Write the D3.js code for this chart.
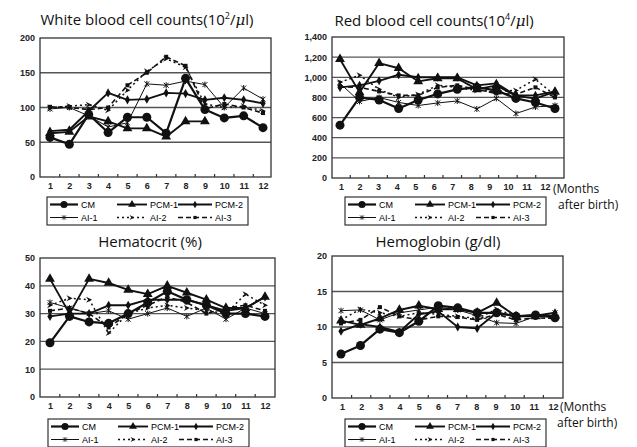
<!DOCTYPE html>
<html><head><meta charset="utf-8">
<script src="https://cdn.jsdelivr.net/npm/d3@7"></script>
<style>body{margin:0;background:#fff}svg{display:block}</style>
</head><body><svg id="c" width="637" height="447"></svg>
<script>
const months = [1,2,3,4,5,6,7,8,9,10,11,12];
const seriesNames = ["CM","PCM-1","PCM-2","AI-1","AI-2","AI-3"];

// White blood cell counts (10^2/ul)
const wbcTicks = [0,50,100,150,200];
const wbcCM   = [57,47,90,64,86,86,63,142,97,85,88,71];
const wbcPCM1 = [63,65,87,80,70,70,58,80,80,null,null,null];
const wbcPCM2 = [66,68,95,121,111,112,121,120,111,114,111,106];
const wbcAI1  = [98,100,88,72,78,134,132,138,133,100,128,112];
const wbcAI2  = [100,102,104,96,125,152,170,158,105,100,102,95];
const wbcAI3  = [101,100,97,100,132,150,173,160,98,105,100,92];

// Red blood cell counts (10^4/ul)
const rbcTicks = [0,200,400,600,800,1000,1200,1400];
const rbcCM   = [525,800,775,690,775,835,880,900,870,790,750,690];
const rbcPCM1 = [1180,850,1140,1090,960,990,990,880,920,815,790,855];
const rbcPCM2 = [900,920,965,1025,1000,1000,1000,920,940,820,820,860];
const rbcAI1  = [940,760,800,750,720,745,765,685,790,640,705,720];
const rbcAI2  = [950,1020,880,800,830,920,900,870,860,870,980,820];
const rbcAI3  = [905,900,860,820,820,900,920,880,840,830,900,800];

// Hematocrit (%)
const hctTicks = [0,10,20,30,40,50];
const hctCM   = [19.5,29,27,26.5,30,34,38,35,33,30,30,29];
const hctPCM1 = [42.5,30,42.5,41,38.5,37,40,37.5,35,32,32,36];
const hctPCM2 = [29,30,30,33,33,35,35,35,33,31,32,36];
const hctAI1  = [34,32,30,31,28,30,32,29,32,28,32,30];
const hctAI2  = [33,35.5,35,23,30,32,33,32,31,30,37,33];
const hctAI3  = [31,32,30,25,30,33,36,34,30,32,33,31];

// Hemoglobin (g/dl)
const hbTicks = [0,5,10,15,20];
const hbCM   = [6.2,7.4,9.7,9.2,10.8,13,12.7,12,12,11.5,11.7,11.3];
const hbPCM1 = [10.9,10.3,11.2,12.4,13,12.5,12.5,12,13.4,11.5,11.5,11.6];
const hbPCM2 = [9.4,10.4,10,9.3,11.8,12.2,10,9.8,12,11.5,11.6,12];
const hbAI1  = [12.3,12.4,11,12,12.4,12.8,12.4,11.6,10.6,10.5,11.5,12];
const hbAI2  = [11,12.5,12,11.5,12,11.8,11.5,11.2,12.5,11.5,11.5,11.5];
const hbAI3  = [10.5,11,12.8,11.5,11,11.5,11.4,11,11.8,11,11.3,11.2];

const svg = d3.select("#c");
const INK = "#111";
const GRID = "#555";

const styles = {
  "CM":    {w:2.2, dash:null,  sym:"circle"},
  "PCM-1": {w:1.9, dash:null,  sym:"triangle"},
  "PCM-2": {w:1.9, dash:null,  sym:"diamond"},
  "AI-1":  {w:1.0, dash:null,  sym:"star"},
  "AI-2":  {w:1.5, dash:"2,3", sym:"arrow"},
  "AI-3":  {w:1.6, dash:"5,3", sym:"square"}
};

function drawMarker(g, sym, x, y, scale) {
  const s = scale || 1;
  if (sym === "circle") g.append("circle").attr("cx",x).attr("cy",y).attr("r",4.5*s).attr("fill",INK);
  else if (sym === "triangle") g.append("path").attr("transform",`translate(${x},${y})`)
      .attr("d", d3.symbol(d3.symbolTriangle, 42*s*s)()).attr("fill",INK);
  else if (sym === "diamond") g.append("path").attr("transform",`translate(${x},${y})`)
      .attr("d", d3.symbol(d3.symbolDiamond, 24*s*s)()).attr("fill",INK);
  else if (sym === "star") g.append("path").attr("transform",`translate(${x},${y}) scale(${s})`)
      .attr("d","M-2.5,-2.5L2.5,2.5M-2.5,2.5L2.5,-2.5M0,-3L0,3").attr("stroke",INK).attr("stroke-width",1).attr("fill","none");
  else if (sym === "arrow") g.append("path").attr("transform",`translate(${x},${y}) scale(${s})`)
      .attr("d","M-3,-3L3,0L-3,3L-1,0Z").attr("fill",INK);
  else if (sym === "square") g.append("rect").attr("x",x-2*s).attr("y",y-2*s).attr("width",4*s).attr("height",4*s).attr("fill",INK);
}

const panels = [
  {title:[["White blood cell counts(10"],["2","sup"],["/"],["μ","it"],["l)"]], tx:147, ty:25,
   vals:[wbcCM,wbcPCM1,wbcPCM2,wbcAI1,wbcAI2,wbcAI3], ticks:wbcTicks, fmt:d3.format("d"),
   f:{l:40,r:271,t:38,b:177}, xr:[50,263], xl:[50,263], lg:{x:47,y:197}, months:null},
  {title:[["Red blood cell counts(10"],["4","sup"],["/"],["μ","it"],["l)"]], tx:434, ty:26,
   vals:[rbcCM,rbcPCM1,rbcPCM2,rbcAI1,rbcAI2,rbcAI3], ticks:rbcTicks, fmt:d3.format(","),
   f:{l:332,r:564,t:37,b:178}, xr:[340,555], xl:[341,545], lg:{x:345,y:197}, months:{x1:553,y1:193,x2:558,y2:209}},
  {title:[["Hematocrit (%)"]], tx:150, ty:247,
   vals:[hctCM,hctPCM1,hctPCM2,hctAI1,hctAI2,hctAI3], ticks:hctTicks, fmt:d3.format("d"),
   f:{l:40,r:275,t:258,b:397}, xr:[50,265], xl:[50,265], lg:{x:48,y:419}, months:null},
  {title:[["Hemoglobin (g/dl)"]], tx:438, ty:247,
   vals:[hbCM,hbPCM1,hbPCM2,hbAI1,hbAI2,hbAI3], ticks:hbTicks, fmt:d3.format("d"),
   f:{l:332,r:563,t:256,b:398}, xr:[341,555], xl:[342,553], lg:{x:345,y:419}, months:{x1:560,y1:411,x2:557,y2:427}}
];

panels.forEach(p => {
  const g = svg.append("g");
  const y = d3.scaleLinear().domain([0, d3.max(p.ticks)]).range([p.f.b, p.f.t]);
  const x = d3.scalePoint().domain(months).range(p.xr);
  const xl = d3.scalePoint().domain(months).range(p.xl);

  // title
  const t = g.append("text").attr("x",p.tx).attr("y",p.ty).attr("text-anchor","middle")
    .attr("font-family","'Open Sans', sans-serif").attr("font-size",15).attr("fill",INK);
  p.title.forEach(([s,k]) => {
    const ts = t.append("tspan").text(s);
    if (k === "sup") ts.attr("font-size",9).attr("baseline-shift","65%");
    if (k === "it") ts.attr("font-style","italic").attr("font-family","'DejaVu Serif', serif");
  });

  // gridlines
  g.append("g").selectAll("line").data(p.ticks.filter(d => d > 0 && d < d3.max(p.ticks))).join("line")
    .attr("x1",p.f.l).attr("x2",p.f.r).attr("y1",d=>y(d)).attr("y2",d=>y(d))
    .attr("stroke",GRID).attr("stroke-width",1.3);
  // frame
  g.append("rect").attr("x",p.f.l).attr("y",p.f.t).attr("width",p.f.r-p.f.l).attr("height",p.f.b-p.f.t)
    .attr("fill","none").attr("stroke","#333").attr("stroke-width",1.3);

  // y axis labels
  const ya = d3.axisLeft(y).tickValues(p.ticks).tickFormat(p.fmt).tickSize(0).tickPadding(5);
  const yg = g.append("g").attr("transform",`translate(${p.f.l},0)`).call(ya);
  yg.select(".domain").remove();
  yg.selectAll("text").attr("font-family","'Liberation Sans', Arial, sans-serif").attr("font-size",9)
    .attr("fill","#222").attr("font-weight","bold");

  // x axis labels
  const xa = d3.axisBottom(xl).tickSize(0).tickPadding(6);
  const xg = g.append("g").attr("transform",`translate(0,${p.f.b})`).call(xa);
  xg.select(".domain").remove();
  xg.selectAll("text").attr("font-family","'Liberation Sans', Arial, sans-serif").attr("font-size",9)
    .attr("fill","#222").attr("font-weight","bold");
  // small ticks between months on the bottom axis
  const mids = months.slice(0,-1).map((m,i) => (xl(m)+xl(months[i+1]))/2);
  g.append("g").selectAll("line").data(mids).join("line")
    .attr("x1",d=>d).attr("x2",d=>d).attr("y1",p.f.b).attr("y2",p.f.b-3)
    .attr("stroke","#333").attr("stroke-width",1.2);

  // series (AI first, CM on top)
  const order = [3,4,5,2,1,0];
  order.forEach(i => {
    const name = seriesNames[i], st = styles[name], vals = p.vals[i];
    const pts = months.map((m,j) => ({m, v: vals[j]}));
    const line = d3.line().defined(d => d.v != null).x(d => x(d.m)).y(d => y(d.v));
    g.append("path").attr("d", line(pts)).attr("fill","none").attr("stroke",INK)
      .attr("stroke-width",st.w).attr("stroke-dasharray",st.dash).attr("stroke-linejoin","round");
    const mg = g.append("g");
    pts.filter(d => d.v != null).forEach(d => drawMarker(mg, st.sym, x(d.m), y(d.v)));
  });

  // legend
  const L = p.lg;
  const lg = g.append("g").attr("transform",`translate(${L.x},${L.y})`);
  lg.append("rect").attr("x",0).attr("y",0).attr("width",201).attr("height",28)
    .attr("fill","#fff").attr("stroke","#333").attr("stroke-width",1.2);
  const cols = [[3,31,34],[70,100,103],[131,165,168]];
  seriesNames.forEach((name,i) => {
    const c = cols[i % 3], ry = i < 3 ? 7.5 : 20.5, st = styles[name];
    lg.append("line").attr("x1",c[0]).attr("x2",c[1]).attr("y1",ry).attr("y2",ry)
      .attr("stroke",INK).attr("stroke-width",st.w).attr("stroke-dasharray",st.dash);
    drawMarker(lg, st.sym, (c[0]+c[1])/2, ry, 0.8);
    lg.append("text").attr("x",c[2]).attr("y",ry+3.2).text(name)
      .attr("font-family","'Liberation Sans', Arial, sans-serif").attr("font-size",9).attr("fill","#000");
  });

  if (p.months) {
    const mt = g.append("g").attr("font-family","'Open Sans', sans-serif").attr("font-size",12).attr("fill",INK);
    mt.append("text").attr("x",p.months.x1).attr("y",p.months.y1).text("(Months");
    mt.append("text").attr("x",p.months.x2).attr("y",p.months.y2).text("after birth)");
  }
});
</script></body></html>
